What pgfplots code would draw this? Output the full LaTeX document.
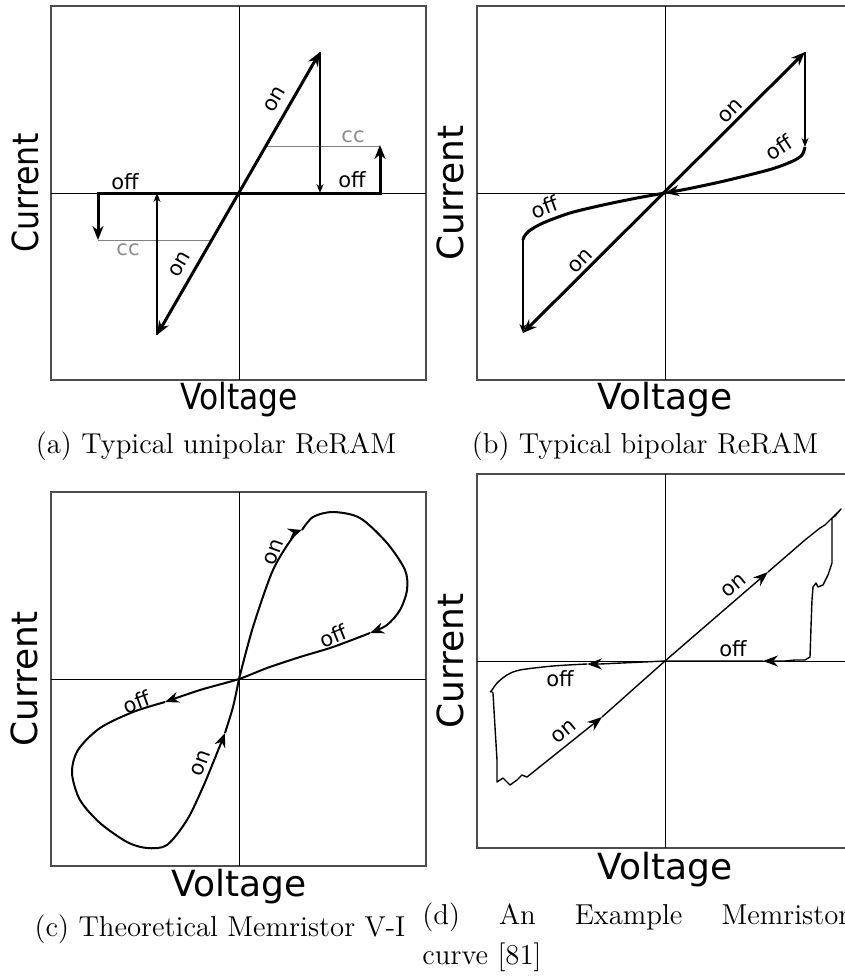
\documentclass[border=0pt]{standalone}
\usepackage{fontspec}
\usepackage{graphicx}
\usepackage{pgfplots}
\pgfplotsset{compat=1.18}
\usetikzlibrary{arrows.meta}
\newfontfamily\dv{DejaVu Sans}
\pgfplotsset{
  panel/.style={scale only axis, width=187.5pt, height=187pt,
    xmin=-188, xmax=187, ymin=-187, ymax=187,
    xtick=\empty, ytick=\empty, no markers, clip=false,
    axis line style={black!70, line width=0.6pt}},
}
\tikzset{
  lab/.style={font=\dv\fontsize{10.5}{12}\selectfont, inner sep=0pt},
  big/.style={font=\dv\fontsize{18}{20}\selectfont, inner sep=0pt},
  captxt/.style={font=\fontsize{14.4}{20}\selectfont, inner sep=0pt},
  zl/.style={black, line width=0.5pt},
}
\begin{document}
\begin{tikzpicture}
\useasboundingbox (0,0) rectangle (422.5pt,-488pt);
% ---------------- (a)
\begin{axis}[panel, at={(25.5pt,-190pt)}, anchor=south west]
\addplot[zl] coordinates {(-188,0)(187,0)};
\addplot[zl] coordinates {(0,-187)(0,187)};
\addplot[black!50, line width=0.5pt] coordinates {(27,47)(141,47)};
\addplot[black!50, line width=0.5pt] coordinates {(-141,-47)(-27,-47)};
\addplot[black, line width=1.5pt, {Stealth[length=7pt,width=5.5pt]}-{Stealth[length=7pt,width=5.5pt]}] coordinates {(-82,-142)(81,141)};
\addplot[black, line width=0.7pt, -{Stealth[length=4.5pt,width=3.5pt]}] coordinates {(81,141)(81,0)};
\addplot[black, line width=0.7pt, -{Stealth[length=4.5pt,width=3.5pt]}] coordinates {(-82,-142)(-82,0)};
\addplot[black, line width=1.5pt, line join=miter, -{Stealth[length=7pt,width=5.5pt]}] coordinates {(0,0)(141,0)(141,48)};
\addplot[black, line width=1.5pt, line join=miter, -{Stealth[length=7pt,width=5.5pt]}] coordinates {(0,0)(-141,0)(-141,-47)};
\node[lab, text=black!45] at (axis cs:114,56) {cc};
\node[lab, text=black!45] at (axis cs:-111,-57) {cc};
\node[lab] at (axis cs:113,13) {off};
\node[lab] at (axis cs:-114,11) {off};
\node[lab, rotate=60] at (axis cs:36,94) {on};
\node[lab, rotate=60] at (axis cs:-59,-71) {on};
\node[big, anchor=base] at (axis cs:0,-216) {\scalebox{0.87}[1]{Voltage}};
\node[big, anchor=base, rotate=90] at (axis cs:-201,0) {\scalebox{0.88}[1]{Current}};
\end{axis}
% ---------------- (b)
\begin{axis}[panel, at={(238.5pt,-190pt)}, anchor=south west]
\addplot[zl] coordinates {(-188,0)(187,0)};
\addplot[zl] coordinates {(0,-187)(0,187)};
\addplot[black, line width=1.5pt, {Stealth[length=7pt,width=5.5pt]}-{Stealth[length=7pt,width=5.5pt]}] coordinates {(-142,-140)(140,141)};
\addplot[black, line width=0.7pt, -{Stealth[length=4.5pt,width=3.5pt]}] coordinates {(140,141)(140,46)};
\addplot[black, line width=0.7pt, -{Stealth[length=4.5pt,width=3.5pt]}] coordinates {(-142,-45)(-142,-140)};
\addplot[black, line width=1.5pt, smooth, -{Stealth[length=7pt,width=5.5pt]}] coordinates {(140,46)(137,38)(128,32)(110,25)(88,19)(55,11)(22,4)(0,0)};
\addplot[black, line width=1.5pt, smooth] coordinates {(0,0)(-28,-5)(-62,-12)(-95,-20)(-122,-30)(-136,-38)(-141,-44)(-142,-47)};
\node[lab, rotate=45] at (axis cs:66,82) {on};
\node[lab, rotate=33] at (axis cs:114,46) {off};
\node[lab, rotate=20] at (axis cs:-120,-14) {off};
\node[lab, rotate=45] at (axis cs:-84,-68) {on};
\node[big, anchor=base] at (axis cs:0,-216) {Voltage};
\node[big, anchor=base, rotate=90] at (axis cs:-202,0) {Current};
\end{axis}
% ---------------- (c)
\begin{axis}[panel, at={(25.5pt,-433pt)}, anchor=south west]
\addplot[zl] coordinates {(-188,0)(187,0)};
\addplot[zl] coordinates {(0,-187)(0,187)};
\addplot[black, line width=1pt, smooth, -{Stealth[length=7pt,width=5.5pt]}] coordinates {(0,0)(14,52)(34,109)(54,142)(63,149)};
\addplot[black, line width=1pt, smooth, -{Stealth[length=7pt,width=5.5pt]}] coordinates {(63,149)(74,162)(94,167)(121,161)(148,136)(166,109)(168,89)(161,69)(148,54)(131,46)};
\addplot[black, line width=1pt, smooth, -{Stealth[length=7pt,width=5.5pt]}] coordinates {(131,46)(94,32)(61,22)(28,11)(0,0)(-39,-11)(-74,-23)};
\addplot[black, line width=1pt, smooth, -{Stealth[length=7pt,width=5.5pt]}] coordinates {(-74,-23)(-106,-33)(-139,-49)(-161,-71)(-167,-94)(-159,-121)(-139,-144)(-112,-163)(-92,-169)(-72,-166)(-52,-141)(-36,-108)(-22,-74)(-14,-54)};
\addplot[black, line width=1pt, smooth] coordinates {(-14,-54)(-6,-28)(0,0)};
\node[lab, rotate=70] at (axis cs:35,127) {on};
\node[lab, rotate=22] at (axis cs:94,43) {off};
\node[lab, rotate=20] at (axis cs:-102,-23) {off};
\node[lab, rotate=70] at (axis cs:-38,-84) {on};
\node[big, anchor=base] at (axis cs:0,-217) {Voltage};
\node[big, anchor=base, rotate=90] at (axis cs:-201,0) {Current};
\end{axis}
% ---------------- (d)
\begin{axis}[panel, at={(238.5pt,-424pt)}, anchor=south west]
\addplot[zl] coordinates {(-188,0)(187,0)};
\addplot[zl] coordinates {(0,-187)(0,187)};
\addplot[black, line width=0.7pt, -{Stealth[length=7.5pt,width=5.5pt]}] coordinates {(0,0)(103,89)};
\addplot[black, line width=0.7pt, line join=round, -{Stealth[length=7.5pt,width=5.5pt]}] coordinates {(103,89)(140,121)(155,133)(160,136)(168,144)(176,152)(170,145)(167,143)(167,98)(163,86)(158,76)(153,74)(151,78)(148,74)(147,61)(146,34)(145,4)(140,1)(130,1)(120,0)(98,0)};
\addplot[black, line width=0.7pt, -{Stealth[length=7.5pt,width=5.5pt]}] coordinates {(98,0)(0,0)(-65,-3)(-78,-3)};
\addplot[black, line width=0.7pt, smooth] coordinates {(-78,-3)(-112,-5)(-145,-9)(-158,-14)(-168,-22)(-173,-29)(-175,-31)};
\addplot[black, line width=0.7pt, line join=round, -{Stealth[length=7.5pt,width=5.5pt]}] coordinates {(-174,-30)(-172,-32)(-170,-66)(-168,-99)(-168,-121)(-162,-117)(-155,-124)(-148,-119)(-143,-114)(-138,-116)(-133,-112)(-63,-56)};
\addplot[black, line width=0.7pt] coordinates {(-63,-56)(0,0)};
\node[lab, rotate=40] at (axis cs:69,75) {on};
\node[lab] at (axis cs:68,12) {off};
\node[lab] at (axis cs:-105,-18) {off};
\node[lab, rotate=40] at (axis cs:-101,-71) {on};
\node[big, anchor=base] at (axis cs:0,-218) {Voltage};
\node[big, anchor=base, rotate=90] at (axis cs:-202,0) {Current};
\end{axis}
% ---------------- captions
\node[captxt, anchor=base] at (108pt,-226.5pt) {(a) Typical unipolar ReRAM};
\node[captxt, anchor=base] at (322.5pt,-226.5pt) {(b) Typical bipolar ReRAM};
\node[captxt, anchor=base] at (110pt,-468pt) {(c) Theoretical Memristor V-I};
\node[captxt, anchor=base west] at (211pt,-462pt) {\parbox[t]{213.5pt}{(d) An Example Memristor\linebreak curve [81]}};
\end{tikzpicture}
\end{document}
